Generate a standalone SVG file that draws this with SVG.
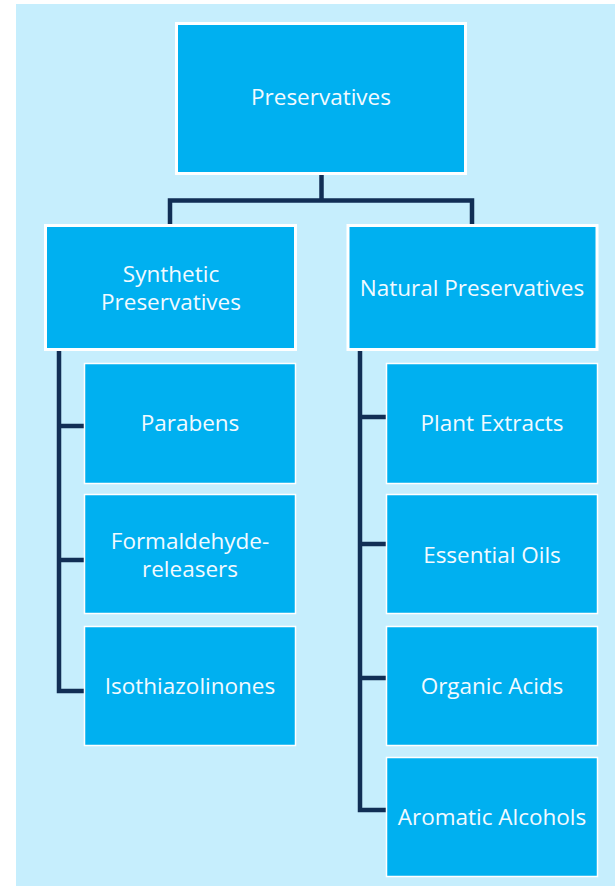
<svg xmlns="http://www.w3.org/2000/svg" width="615" height="886" viewBox="0 0 615 886">
  <style>
    .bg { fill: #C6EEFD; }
    .box { fill: #00B0F0; stroke: #FFFFFF; }
    .main { stroke-width: 3; }
    .sub { stroke-width: 1.5; }
    .lbl { fill: #F2FAFF; font-family: "Open Sans", "Noto Sans", "Liberation Sans", sans-serif; font-size: 22.5px; text-anchor: middle; }
    .wire { fill: none; stroke: #112E55; stroke-width: 4.5; stroke-linejoin: miter; stroke-linecap: butt; }
  </style>
  <rect width="615" height="886" fill="#FFFFFF"/>
  <rect class="bg" x="16" y="4" width="599" height="882"/>

  <g id="connectors">
    <path class="wire" d="M321.5,175 V200.5 H170 V226 M321.5,200.5 H472 V226"/>
    <path class="wire" d="M59,350 V691 H85 M59,426 H85 M59,560 H85"/>
    <path class="wire" d="M360,350 V810 H387 M360,417 H387 M360,544 H387 M360,678 H387"/>
  </g>

  <g id="preservatives">
    <rect class="box main" x="176.5" y="23.5" width="289" height="150"/>
    <text class="lbl" x="321" y="105">Preservatives</text>
  </g>

  <g id="synthetic">
    <rect class="box main" x="45.5" y="225.5" width="250" height="124"/>
    <text class="lbl" x="171" y="282">Synthetic</text>
    <text class="lbl" x="171" y="310">Preservatives</text>
  </g>

  <g id="natural">
    <rect class="box main" x="348" y="225.5" width="249" height="124"/>
    <text class="lbl" x="472" y="296">Natural Preservatives</text>
  </g>

  <g id="parabens">
    <rect class="box sub" x="84.5" y="363.5" width="211" height="120"/>
    <text class="lbl" x="190" y="431">Parabens</text>
  </g>

  <g id="formaldehyde-releasers">
    <rect class="box sub" x="84.5" y="494.5" width="211" height="119"/>
    <text class="lbl" x="190" y="549">Formaldehyde-</text>
    <text class="lbl" x="190" y="577">releasers</text>
  </g>

  <g id="isothiazolinones">
    <rect class="box sub" x="84.5" y="626.5" width="211" height="119"/>
    <text class="lbl" x="190" y="694">Isothiazolinones</text>
  </g>

  <g id="plant-extracts">
    <rect class="box sub" x="386.5" y="363.5" width="211" height="120"/>
    <text class="lbl" x="492" y="431">Plant Extracts</text>
  </g>

  <g id="essential-oils">
    <rect class="box sub" x="386.5" y="494.5" width="211" height="119"/>
    <text class="lbl" x="492" y="563">Essential Oils</text>
  </g>

  <g id="organic-acids">
    <rect class="box sub" x="386.5" y="626.5" width="211" height="119"/>
    <text class="lbl" x="492" y="694">Organic Acids</text>
  </g>

  <g id="aromatic-alcohols">
    <rect class="box sub" x="386.5" y="757.5" width="211" height="119"/>
    <text class="lbl" x="492" y="825">Aromatic Alcohols</text>
  </g>
</svg>
